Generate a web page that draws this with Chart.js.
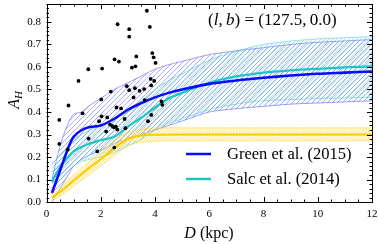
<!DOCTYPE html>
<html><head><meta charset="utf-8">
<script src="https://cdn.jsdelivr.net/npm/chart.js@4/dist/chart.umd.min.js"></script>
<style>html,body{margin:0;padding:0;background:#fff}#wrap{width:378px;height:244px}</style>
</head><body><div id="wrap"><canvas id="c" width="378" height="244"></canvas></div>
<script>
// ---- data ----
const starD=[0.47,0.47,0.78,0.81,1.18,1.33,1.54,1.55,1.87,1.94,2.03,2.02,2.05,2.2,2.24,2.34,2.37,2.42,2.48,2.50,2.51,2.56,2.58,2.61,2.62,2.67,2.75,2.88,2.91,2.96,3.05,3.05,3.05,3.15,3.21,3.26,3.28,3.31,3.43,3.60,3.62,3.70,3.74,3.81,3.84,3.86,3.86,3.90,3.95,3.97,4.02,4.24,4.27];
const starA=[0.365,0.258,0.233,0.429,0.538,0.394,0.59,0.282,0.225,0.359,0.381,0.456,0.593,0.313,0.376,0.344,0.491,0.338,0.332,0.242,0.634,0.335,0.42,0.322,0.79,0.624,0.416,0.369,0.328,0.515,0.497,0.768,0.735,0.597,0.465,0.506,0.603,0.647,0.494,0.502,0.453,0.85,0.359,0.778,0.547,0.518,0.387,0.662,0.643,0.538,0.618,0.447,0.432];

const gridD=[0.2,0.5,0.8,1.0,1.3,1.6,2.0,2.5,3.0,3.5,4.0,4.5,5.0,6.0,7.0,8.0,9.0,10.0,11.0,12.0];
const greenA=[0.04,0.14,0.24,0.29,0.32,0.333,0.34,0.37,0.41,0.44,0.465,0.485,0.50,0.525,0.54,0.552,0.562,0.57,0.575,0.58];
const greenHi=[0.10,0.25,0.35,0.39,0.40,0.43,0.46,0.50,0.53,0.56,0.59,0.61,0.625,0.655,0.672,0.686,0.70,0.71,0.716,0.722];
const greenLo=[0.0,0.06,0.12,0.16,0.19,0.21,0.23,0.26,0.28,0.30,0.32,0.34,0.36,0.40,0.415,0.425,0.435,0.44,0.445,0.45];
const salcA=[0.09,0.155,0.20,0.225,0.245,0.26,0.275,0.29,0.335,0.375,0.42,0.46,0.485,0.53,0.558,0.575,0.585,0.592,0.598,0.603];
const salcHi=[0.17,0.21,0.25,0.28,0.30,0.32,0.34,0.37,0.40,0.45,0.50,0.54,0.57,0.63,0.67,0.70,0.715,0.725,0.73,0.735];
const salcLo=[0.05,0.10,0.14,0.16,0.18,0.19,0.20,0.22,0.25,0.28,0.32,0.35,0.37,0.41,0.435,0.45,0.455,0.46,0.462,0.465];
const yelD=[0.2,0.5,1.0,1.5,2.0,2.5,3.0,3.5,4.0,5,6,8,10,12];
const yelA=[0.02,0.045,0.095,0.145,0.19,0.24,0.28,0.296,0.299,0.30,0.30,0.30,0.30,0.30];
const yelHi=[0.035,0.065,0.12,0.175,0.22,0.275,0.31,0.325,0.33,0.33,0.33,0.33,0.33,0.33];
const yelLo=[0.005,0.025,0.07,0.115,0.16,0.205,0.25,0.265,0.27,0.272,0.272,0.272,0.272,0.272];
const xTicks=[0,2,4,6,8,10,12];
const yTicks=[0.0,0.1,0.2,0.3,0.4,0.5,0.6,0.7,0.8];
const legendLabels=['Green et al. (2015)','Salc et al. (2014)'];

// ---- helpers ----
const pts=(xs,ys)=>xs.map((x,i)=>({x:x,y:ys[i]}));
function hatch(color,size,lw,cross){
  const c=document.createElement('canvas');c.width=c.height=size;
  const g=c.getContext('2d');g.strokeStyle=color;g.lineWidth=lw;g.beginPath();
  g.moveTo(-1,1);g.lineTo(1,-1);g.moveTo(0,size);g.lineTo(size,0);g.moveTo(size-1,size+1);g.lineTo(size+1,size-1);
  if(cross){g.moveTo(-1,size-1);g.lineTo(1,size+1);g.moveTo(0,0);g.lineTo(size,size);g.moveTo(size-1,-1);g.lineTo(size+1,1);}
  g.stroke();
  return g.createPattern(c,'repeat');
}
const BLUE='#0a0aff', CYAN='#1fc4c4', GOLD='#ffcc00';
const SERIF='"Liberation Serif","DejaVu Serif",serif';

const band=(xs,hi,lo,col,pat,ord)=>[
 {data:pts(xs,hi),borderColor:col,borderWidth:0.7,pointRadius:0,fill:'+1',backgroundColor:pat,tension:0.3,order:ord},
 {data:pts(xs,lo),borderColor:col,borderWidth:0.7,pointRadius:0,fill:false,tension:0.3,order:ord}
];

const deco={
 id:'deco',
 afterDraw(chart){
  const ctx=chart.ctx,a=chart.chartArea,xs=chart.scales.x,ys=chart.scales.y;
  ctx.save();
  ctx.strokeStyle='#000';ctx.lineWidth=1;
  ctx.strokeRect(Math.round(a.left)+0.5,Math.round(a.top)+0.5,Math.round(a.right-a.left)-1,Math.round(a.bottom-a.top));
  ctx.beginPath();
  for(let v=0;v<=12.001;v+=0.5){
   const p=Math.round(xs.getPixelForValue(v))+0.5; const L=(Math.abs(v/2-Math.round(v/2))<1e-6)?5:2.5;
   ctx.moveTo(p,a.bottom);ctx.lineTo(p,a.bottom-L);ctx.moveTo(p,a.top);ctx.lineTo(p,a.top+L);
  }
  for(let k=0;k<=44;k++){
   const v=k*0.02; if(v>ys.max)break;
   const p=Math.round(ys.getPixelForValue(v))+0.5; const L=(k%5===0)?5:2.5;
   ctx.moveTo(a.left,p);ctx.lineTo(a.left+L,p);ctx.moveTo(a.right,p);ctx.lineTo(a.right-L,p);
  }
  ctx.stroke();
  ctx.fillStyle='#000';ctx.font='11px '+SERIF;
  ctx.textAlign='center';ctx.textBaseline='alphabetic';
  xTicks.forEach(v=>ctx.fillText(String(v),xs.getPixelForValue(v),217));
  ctx.textAlign='right';ctx.textBaseline='middle';
  yTicks.forEach(v=>ctx.fillText(v.toFixed(1),41,ys.getPixelForValue(v)));
  // x title
  ctx.textBaseline='alphabetic';ctx.textAlign='left';
  ctx.font='italic 16px '+SERIF;const wD=ctx.measureText('D').width;
  ctx.font='16px '+SERIF;const wR=ctx.measureText(' (kpc)').width;
  let sx=209-(wD+wR)/2;
  ctx.font='italic 16px '+SERIF;ctx.fillText('D',sx,238);
  ctx.font='16px '+SERIF;ctx.fillText(' (kpc)',sx+wD,238);
  // y title
  ctx.save();ctx.translate(19,100);ctx.rotate(-Math.PI/2);
  ctx.font='italic 16px '+SERIF;const wA=ctx.measureText('A').width;
  ctx.font='italic 11px '+SERIF;const wH=ctx.measureText('H').width;
  const s0=-(wA+wH)/2;
  ctx.font='italic 16px '+SERIF;ctx.fillText('A',s0,0);
  ctx.font='italic 11px '+SERIF;ctx.fillText('H',s0+wA,3);
  ctx.restore();
  // annotation
  const parts=[['(',0],['l',1],[',\u2009',0],['b',1],[') = (127.5,\u20090.0)',0]];
  let ax=208;
  parts.forEach(([t,it])=>{ctx.font=(it?'italic ':'')+'17px '+SERIF;ctx.fillText(t,ax,25);ax+=ctx.measureText(t).width;});
  // legend
  const cols=[BLUE,CYAN],ly=[154,179];
  ctx.font='16.5px '+SERIF;ctx.textBaseline='middle';
  legendLabels.forEach((t,i)=>{
   ctx.strokeStyle=cols[i];ctx.lineWidth=2.5;ctx.beginPath();ctx.moveTo(186,ly[i]);ctx.lineTo(211,ly[i]);ctx.stroke();
   ctx.fillStyle='#000';ctx.fillText(t,227,ly[i]+1);
  });
  ctx.restore();
 }
};

new Chart(document.getElementById('c'),{
 type:'line',
 data:{datasets:[
  {data:pts(starD,starA),showLine:false,pointRadius:1.9,pointBackgroundColor:'#000',pointBorderWidth:0,order:0},
  {data:pts(gridD,greenA),borderColor:BLUE,borderWidth:2.6,pointRadius:0,fill:false,tension:0.3,order:1},
  {data:pts(gridD,salcA),borderColor:CYAN,borderWidth:2.2,pointRadius:0,fill:false,tension:0.3,order:2},
  {data:pts(yelD,yelA),borderColor:GOLD,borderWidth:2.2,pointRadius:0,fill:false,tension:0.3,order:3},
  ...band(gridD,greenHi,greenLo,'rgba(60,60,255,0.7)',hatch('rgba(70,70,255,0.75)',5,0.6,false),6),
  ...band(gridD,salcHi,salcLo,'rgba(40,200,210,0.7)',hatch('rgba(60,200,210,0.75)',4,0.6,false),5),
  ...band(yelD,yelHi,yelLo,'rgba(255,210,40,0.7)',hatch('rgba(255,215,60,0.8)',3,0.6,true),4)
 ]},
 options:{
  responsive:false,animation:false,devicePixelRatio:1,
  layout:{padding:{left:46.5,right:6,top:2.5,bottom:42}},
  plugins:{legend:{display:false},tooltip:{enabled:false},filler:{propagate:false}},
  scales:{
   x:{type:'linear',min:0,max:12,display:false},
   y:{type:'linear',min:0,max:0.88,display:false}
  }
 },
 plugins:[deco]
});
</script></body></html>
